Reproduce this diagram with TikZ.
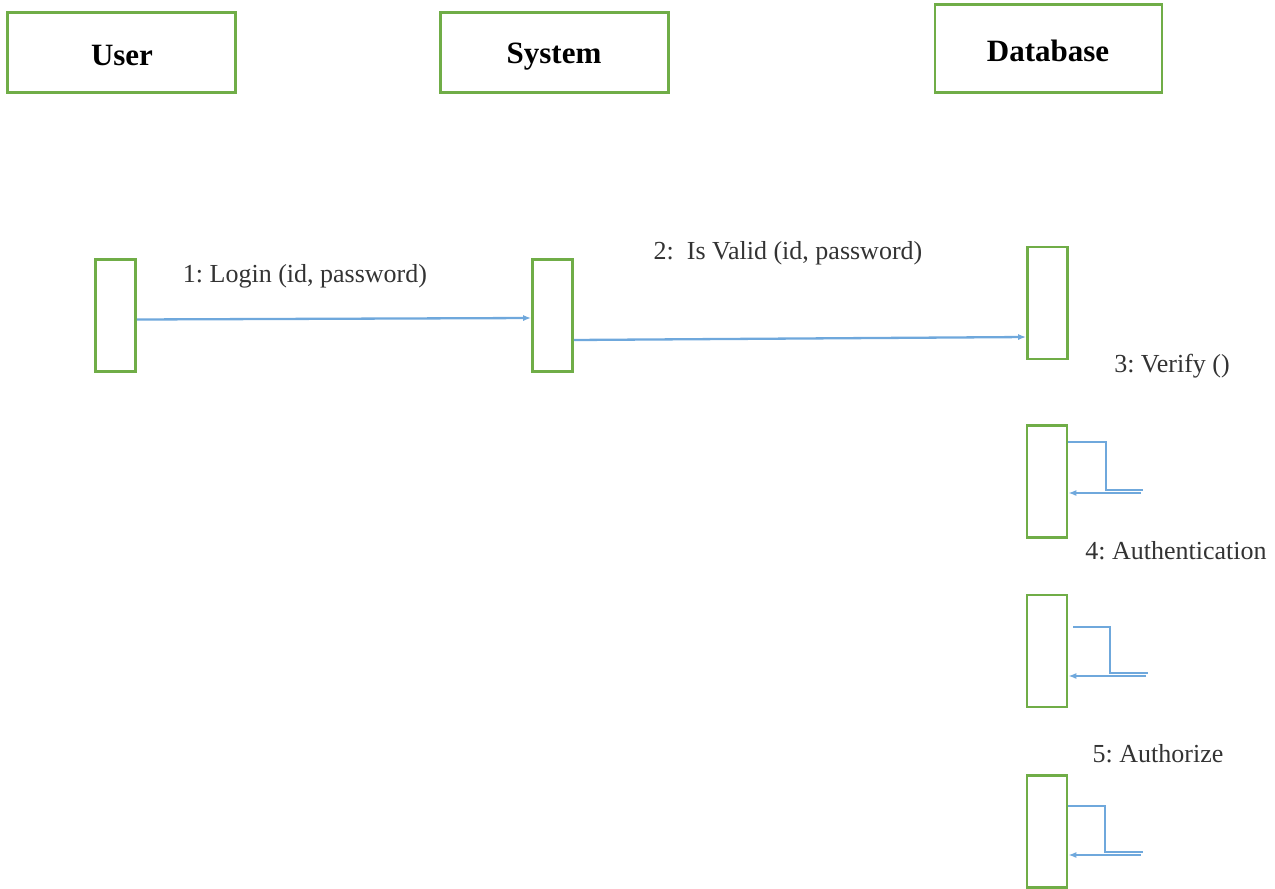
\documentclass[tikz,border=0pt]{standalone}
\usepackage{fontspec}
\setmainfont{Liberation Serif}
\usetikzlibrary{arrows.meta}
\definecolor{boxgreen}{HTML}{70AD47}
\definecolor{msgblue}{HTML}{6FA8DC}
\frenchspacing
\begin{document}
\begin{tikzpicture}[x=1pt,y=-1pt,
  lifebox/.style={draw=boxgreen,line width=2.6pt,fill=white,inner sep=0pt},
  actbox/.style={draw=boxgreen,line width=2.6pt,fill=white,inner sep=0pt,
    minimum width=40pt,minimum height=112pt},
  msg/.style={draw=msgblue,line width=2.3pt,-{Latex[length=8pt,width=6pt]}},
  msgline/.style={draw=msgblue,line width=2.3pt},
  lbl/.style={font=\fontsize{26}{30}\selectfont,text=black!80,anchor=base,inner sep=0pt},
  headlbl/.style={font=\fontsize{31}{36}\selectfont\bfseries,text=black,anchor=base,inner sep=0pt}]
\useasboundingbox (0,0) rectangle (1275,889);

% lifeline heads
\node[lifebox,minimum width=228pt,minimum height=80pt] (user) at (121.5,52.5) {};
\node[lifebox,minimum width=228pt,minimum height=80pt] (sys) at (554.5,52.5) {};
\node[lifebox,minimum width=227pt,minimum height=88pt] (db) at (1048.5,48.5) {};
\node[headlbl] (userlbl) at (122,65) {User};
\node[headlbl] (syslbl) at (554,63) {System};
\node[headlbl] (dblbl) at (1048,61) {Database};

% activation boxes
\node[actbox] (ua) at (115.5,315.5) {};
\node[actbox] (sa) at (552.5,315.5) {};
\node[actbox] (d1) at (1047.5,303) {};
\node[actbox] (d2) at (1047,481.5) {};
\node[actbox] (d3) at (1047,651) {};
\node[actbox] (d4) at (1047,831.5) {};

% messages
\draw[msg] ([yshift=-4pt]ua.east) -- ([yshift=-2.5pt]sa.west);
\node[lbl] (m1) at (305,282) {1: Login (id, password)};
\draw[msg] ([yshift=-24.5pt]sa.east) -- ([yshift=-34pt]d1.west);
\node[lbl] (m2) at (788,259) {2:\ \ Is Valid (id, password)};

% self calls on the database
\node[lbl] (m3) at (1172,372) {3: Verify ()};
\coordinate (c3a) at (1106,490);
\coordinate (c3b) at (1143,490);
\coordinate (c3r) at (1141,493);
\draw[msgline] ([yshift=39.5pt]d2.east) -| (c3a) -- (c3b);
\draw[msg] (c3r) -- (d2.east |- c3r);

\node[lbl] (m4) at (1176,559) {4: Authentication};
\coordinate (c4a) at (1110,673);
\coordinate (c4b) at (1148,673);
\coordinate (c4r) at (1146,676);
\draw[msgline] ([xshift=5pt,yshift=24pt]d3.east) -| (c4a) -- (c4b);
\draw[msg] (c4r) -- (d3.east |- c4r);

\node[lbl] (m5) at (1158,762) {5: Authorize};
\coordinate (c5a) at (1105,852);
\coordinate (c5b) at (1143,852);
\coordinate (c5r) at (1141,855);
\draw[msgline] ([yshift=25.5pt]d4.east) -| (c5a) -- (c5b);
\draw[msg] (c5r) -- (d4.east |- c5r);
\end{tikzpicture}
\end{document}
